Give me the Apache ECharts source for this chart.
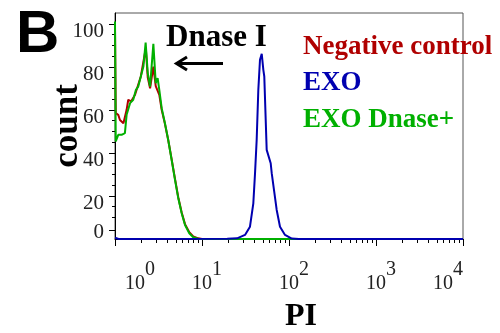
<!DOCTYPE html>
<html><head><meta charset="utf-8">
<script src="https://cdn.jsdelivr.net/npm/echarts@6/dist/echarts.min.js"></script>
<style>html,body{margin:0;padding:0;background:#fff}#c{width:500px;height:333px}</style>
</head><body><div id="c"></div>
<script>
// ---- data ----
const seriesNames = ['Negative control', 'EXO', 'EXO Dnase+'];
const seriesColors = ['#b00000', '#0000b0', '#00b000'];

const negX = [1.0, 1.02, 1.09, 1.14, 1.25, 1.36, 1.42, 1.53, 1.70, 1.98, 2.21, 2.27, 2.38, 2.53, 2.76, 2.94, 3.09, 3.23, 3.44, 3.75, 4.09, 4.48, 4.90, 5.34, 5.84, 6.38, 7.14, 7.93, 9.05, 10, 10000];
const negY = [98, 58.5, 57.7, 55.3, 53.8, 60, 64.7, 63.9, 67, 75.5, 86.4, 87.5, 75, 70, 80.1, 71, 70.5, 67, 60, 53.5, 46, 37, 27.8, 19.3, 12.3, 6.9, 3.2, 1.2, 0.3, 0, 0];

const exoX = [1.0, 1.1, 19.5, 25.3, 31.2, 35.6, 38.9, 40.7, 42.5, 44.4, 46.4, 48.6, 50.7, 52.0, 55.4, 61.6, 63.3, 67.2, 72.2, 78.8, 90.0, 107.5, 130, 10000];
const exoY = [0.6, 0, 0.15, 0.3, 1.9, 5.7, 16.6, 30.6, 46, 69.3, 83.3, 86, 78.6, 75.5, 41.4, 35.2, 30.6, 22.8, 13.5, 5.7, 1.9, 0.2, 0, 0];

const dnaseX = [1.0, 1.02, 1.09, 1.19, 1.30, 1.36, 1.49, 1.62, 1.74, 1.85, 1.98, 2.12, 2.25, 2.38, 2.53, 2.76, 2.94, 3.09, 3.23, 3.44, 3.75, 4.09, 4.48, 4.90, 5.34, 5.84, 6.38, 7.14, 7.93, 9.05, 10, 10000];
const dnaseY = [101, 45.3, 48.4, 48.4, 49.2, 57.7, 63.1, 64.7, 69.3, 70.8, 75.5, 80.1, 91.3, 77.1, 70.8, 90.7, 72.4, 74.7, 69.3, 60.8, 53.8, 46, 36.7, 27.4, 18.9, 12, 6.5, 2.7, 0.8, 0.1, 0, 0];

const xMajorTicks = [1, 10, 100, 1000, 10000];
const xMinorTicks = [2,3,4,5,6,7,8,9, 20,30,40,50,60,70,80,90, 200,300,400,500,600,700,800,900, 2000,3000,4000,5000,6000,7000,8000,9000];
const yTickValues = [0, 20, 40, 60, 80, 100];
const yMinorTicks = [10, 15, 25, 30, 35, 45, 50, 55, 65, 70, 75, 85, 90, 95];

// ---- chart ----
const zip = (xs, ys) => xs.map((x, i) => [x, ys[i]]);
const serif = '"Liberation Serif", "Times New Roman", serif';
const zeroTickLift = 4;   // the "0" tick sits slightly above the baseline in the original
const zeroLabelLift = 3;  // and its label a little lower than that tick
const chart = echarts.init(document.getElementById('c'), null, {renderer: 'canvas'});

chart.setOption({
  animation: false,
  backgroundColor: '#fff',
  grid: {left: 115, top: 13, width: 348, height: 226, show: true, borderColor: '#555', borderWidth: 1, backgroundColor: 'transparent'},
  legend: {
    orient: 'vertical', left: 293, top: 27, itemGap: 6.5, icon: 'none', itemWidth: 0, itemHeight: 30,
    selectedMode: false,
    textStyle: {fontFamily: serif, fontWeight: 'bold', fontSize: 27, lineHeight: 30},
    data: seriesNames.map((n, i) => ({name: n, textStyle: {color: seriesColors[i]}}))
  },
  xAxis: [{
    type: 'log', logBase: 10, min: xMajorTicks[0], max: xMajorTicks[xMajorTicks.length - 1],
    position: 'bottom',
    axisLine: {onZero: false, lineStyle: {color: '#000', width: 1}},
    axisTick: {length: 7, lineStyle: {color: '#000'}},
    splitLine: {show: false},
    axisLabel: {
      margin: 21, alignMinLabel: 'left', alignMaxLabel: 'right',
      formatter: v => '{b|10}{s|' + Math.round(Math.log10(v)) + '}',
      rich: {
        b: {fontFamily: serif, fontSize: 20, color: '#222', lineHeight: 48, padding: [0, 0, 0, 10]},
        s: {fontFamily: serif, fontSize: 20, color: '#222', lineHeight: 20, verticalAlign: 'top'}
      }
    }
  }, {
    type: 'value', min: 0, max: 4, position: 'bottom',
    axisLine: {show: false, onZero: false},
    axisLabel: {show: false}, splitLine: {show: false},
    axisTick: {show: true, length: 4, lineStyle: {color: '#000'}, customValues: xMinorTicks.map(v => Math.log10(v))}
  }],
  yAxis: [{
    type: 'value', min: 0, max: 105, position: 'left',
    name: 'count', nameLocation: 'middle', nameGap: 30, nameRotate: 90, nameMoveOverlap: false,
    nameTextStyle: {fontFamily: serif, fontWeight: 'bold', fontSize: 35, color: '#000'},
    axisLine: {show: true, onZero: false, lineStyle: {color: '#000', width: 1}},
    axisTick: {show: true, length: 6, lineStyle: {color: '#000'}, customValues: yTickValues.map(v => v === 0 ? zeroTickLift : v)},
    splitLine: {show: false},
    axisLabel: {
      margin: 11,
      customValues: yTickValues.map(v => v === 0 ? zeroLabelLift : v),
      formatter: v => v === zeroLabelLift ? '{z|0}' : '{n|' + v + '}',
      rich: {
        n: {fontFamily: serif, fontSize: 21, color: '#222', padding: [16, 0, 0, 0]},
        z: {fontFamily: serif, fontSize: 21, color: '#222', lineHeight: 12}
      }
    }
  }, {
    type: 'value', min: 0, max: 105, position: 'left',
    axisLine: {show: false, onZero: false}, axisLabel: {show: false}, splitLine: {show: false},
    axisTick: {show: true, length: 3, lineStyle: {color: '#000'}, customValues: yMinorTicks}
  }],
  graphic: [
    {type: 'text', left: 16, top: 5, style: {text: 'B', font: 'bold 60px "Liberation Sans", Arial, sans-serif', fill: '#000'}},
    {type: 'text', x: 166, y: 38, style: {text: 'Dnase I', font: 'bold 31px ' + serif, fill: '#000', verticalAlign: 'middle'}},
    {type: 'text', x: 301, y: 317, style: {text: 'PI', font: 'bold 32px ' + serif, fill: '#000', align: 'center', verticalAlign: 'middle'}},
    {type: 'line', shape: {x1: 176, y1: 63.5, x2: 223, y2: 63.5}, style: {stroke: '#000', lineWidth: 3}},
    {type: 'polyline', shape: {points: [[187, 57], [176.5, 63.5], [187, 70]]}, style: {stroke: '#000', lineWidth: 3, fill: null}}
  ],
  series: [
    {name: seriesNames[0], type: 'line', data: zip(negX, negY), showSymbol: false, z: 2, lineStyle: {color: seriesColors[0], width: 2}, itemStyle: {color: seriesColors[0]}},
    {name: seriesNames[1], type: 'line', data: zip(exoX, exoY), showSymbol: false, z: 4, lineStyle: {color: seriesColors[1], width: 2}, itemStyle: {color: seriesColors[1]}},
    {name: seriesNames[2], type: 'line', data: zip(dnaseX, dnaseY), showSymbol: false, z: 3, lineStyle: {color: seriesColors[2], width: 2}, itemStyle: {color: seriesColors[2]}}
  ]
});
</script>
</body></html>
